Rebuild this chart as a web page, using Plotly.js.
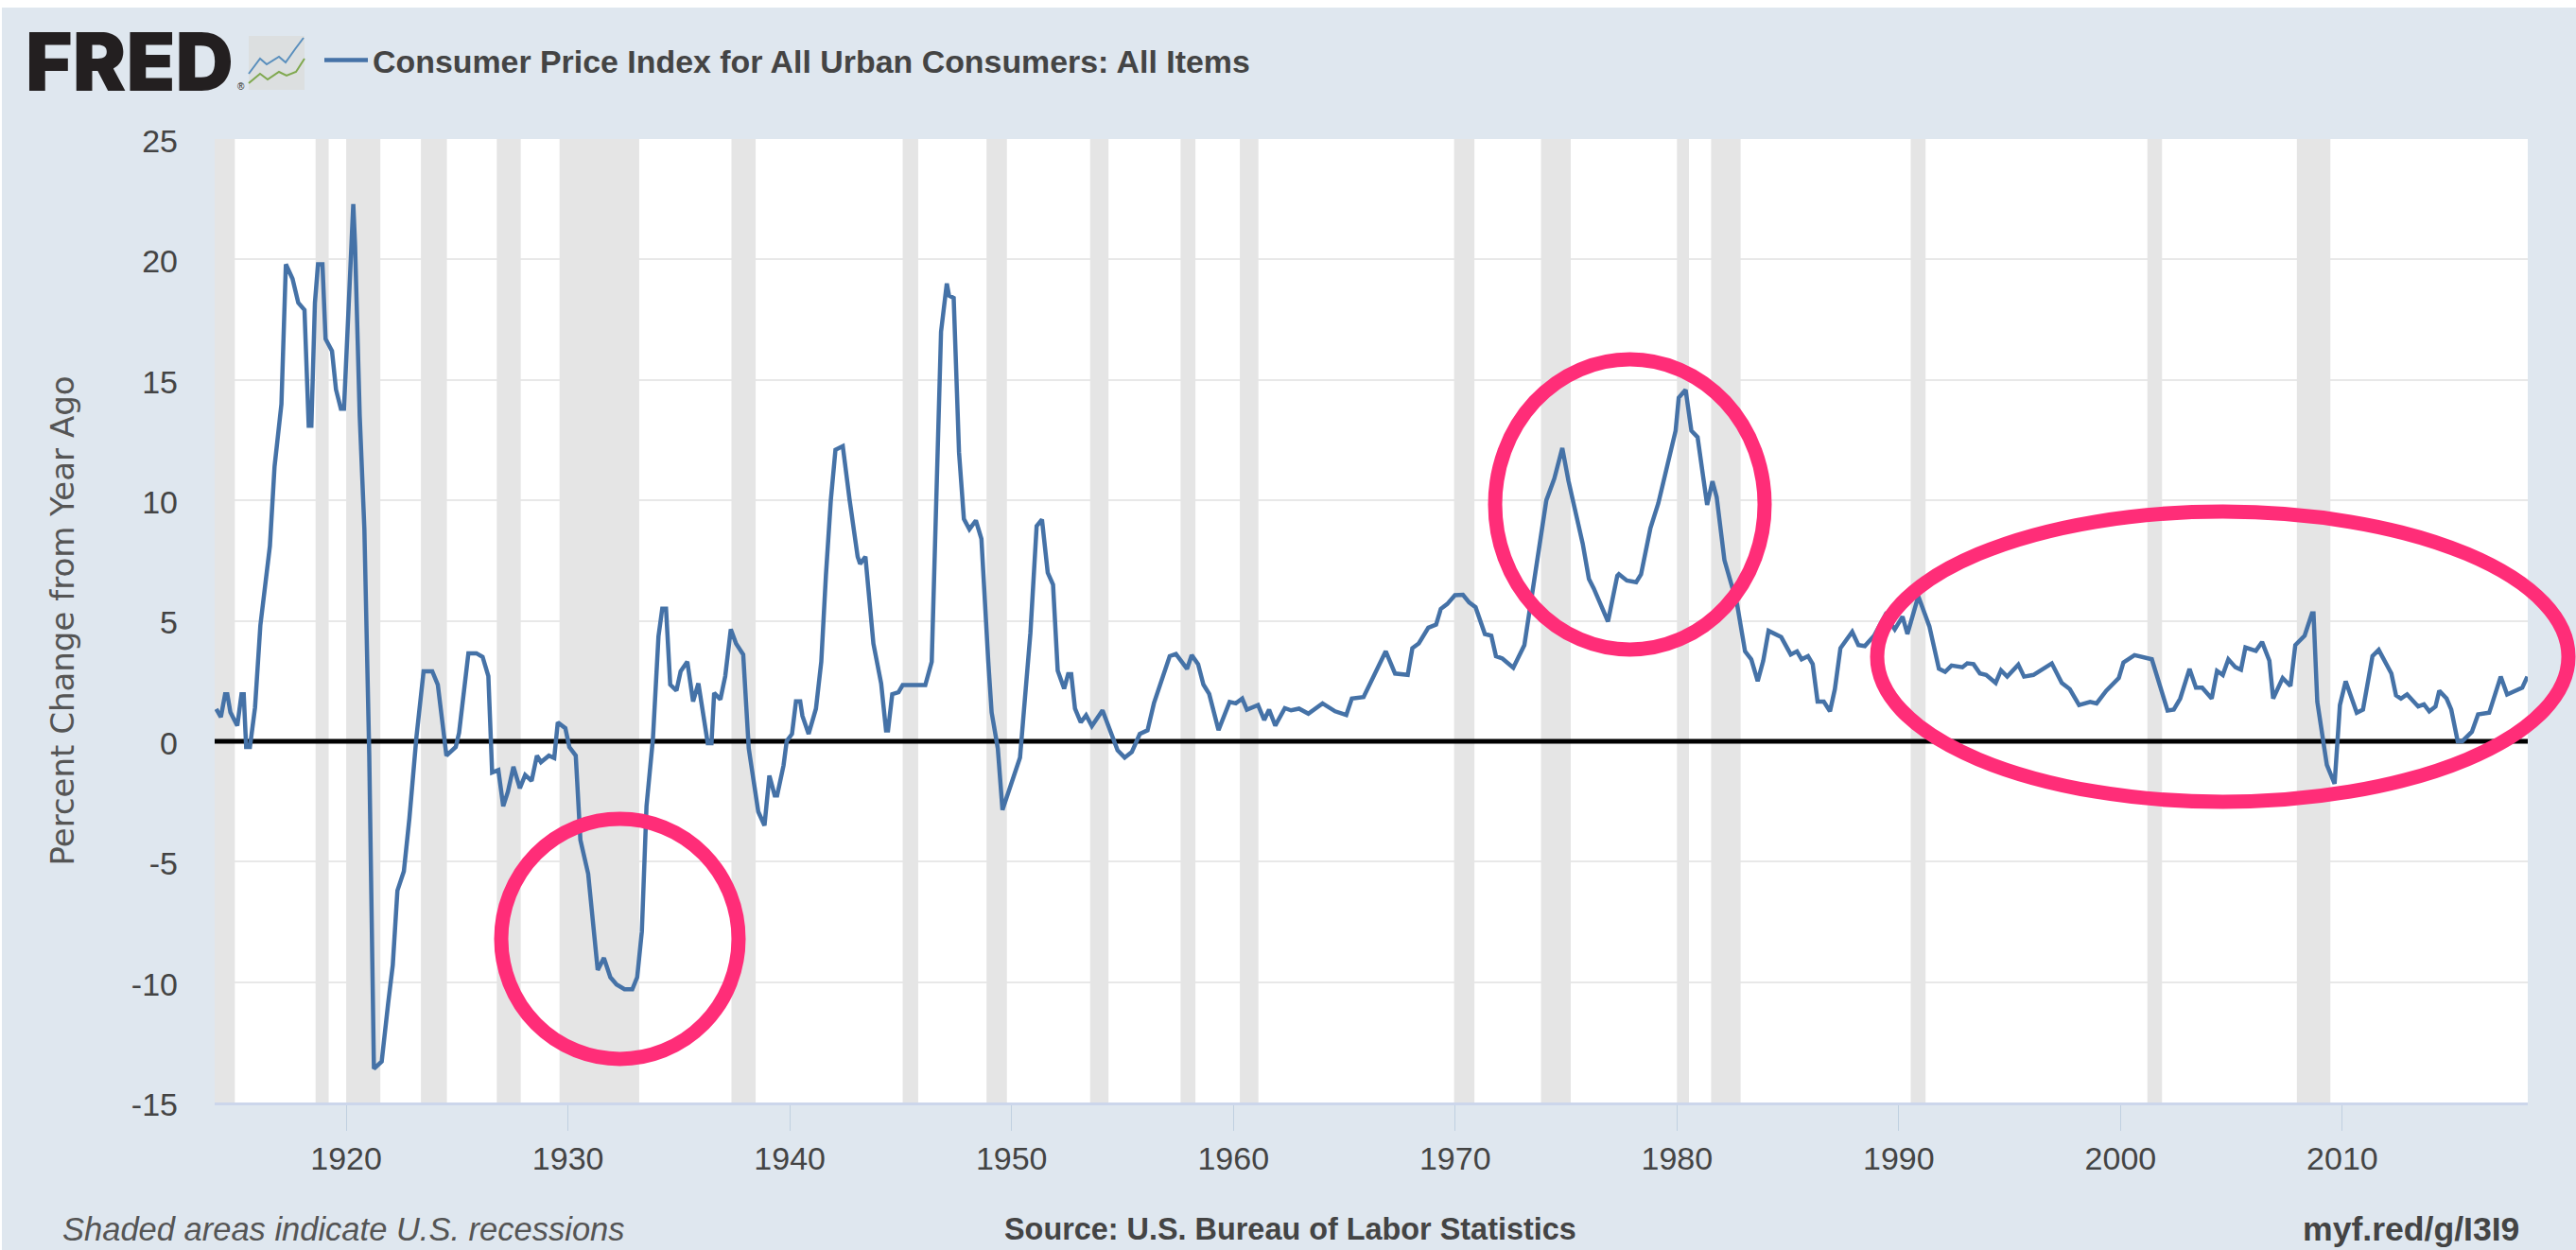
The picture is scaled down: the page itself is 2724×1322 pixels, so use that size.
<!DOCTYPE html>
<html><head><meta charset="utf-8">
<script src="https://cdn.plot.ly/plotly-3.0.1.min.js"></script>
<style>html,body{margin:0;padding:0;background:#fff;overflow:hidden}#c{position:absolute;left:2px;top:8px;width:2722px;height:1314px}</style>
</head><body><div id="c"></div>
<script>
// Percent change from year ago
const yearsA=[1914.14,1914.35,1914.54,1914.64,1914.78,1915.09,1915.28,1915.38,1915.49,1915.66,1915.89,1916.13,1916.56,1916.77,1917.08,1917.28,1917.58,1917.84,1918.12,1918.31,1918.43,1918.59,1918.73,1918.93,1919.07,1919.36,1919.54,1919.76,1919.90,1920.11,1920.32,1920.40,1920.61,1920.82,1921.04,1921.25,1921.60,1921.89,1922.10,1922.31,1922.60,1922.85,1923.17,1923.49,1923.88,1924.13,1924.52,1924.94,1925.09,1925.51,1925.87,1926.15,1926.41,1926.58,1926.86,1927.08,1927.29,1927.54,1927.83,1928.07,1928.36,1928.60,1928.78,1929.14,1929.38,1929.54,1929.88,1930.06,1930.35,1930.56,1930.91,1931.34,1931.62,1931.91,1932.19,1932.55,1932.90,1933.12,1933.33,1933.54,1933.83,1934.08,1934.25,1934.42,1934.61,1934.89,1935.08];
const valuesA=[1.34,1.0,1.95,1.95,1.2,0.64,1.95,1.95,-0.24,-0.24,1.4,4.8,8.1,11.4,14,19.8,19.2,18.2,17.9,13.1,13.1,18.2,19.8,19.8,16.7,16.2,14.6,13.8,13.8,18.2,22.3,20.6,13.5,8.8,-0.6,-13.6,-13.3,-10.9,-9.3,-6.2,-5.4,-3.2,0.2,2.9,2.9,2.35,-0.6,-0.24,0.35,3.65,3.65,3.5,2.7,-1.3,-1.2,-2.7,-2.1,-1.06,-1.95,-1.4,-1.65,-0.6,-0.87,-0.6,-0.7,0.78,0.54,-0.24,-0.6,-4.1,-5.5,-9.5,-9,-9.8,-10.1,-10.3,-10.3,-9.8,-7.9,-2.7,0.1,4.35,5.5,5.5,2.35,2.1,2.9];
const yearsB=[1935.38,1935.64,1935.88,1936.30,1936.47,1936.59,1936.87,1937.09,1937.34,1937.58,1937.90,1938.15,1938.58,1938.86,1939.08,1939.32,1939.43,1939.72,1939.86,1940.10,1940.28,1940.47,1940.57,1940.85,1941.18,1941.42,1941.63,1941.85,1942.06,1942.39,1942.70,1943.06,1943.17,1943.41,1943.77,1944.12,1944.34,1944.43,1944.62,1944.90,1945.09,1946.11,1946.40,1946.61,1946.82,1947.08,1947.18,1947.39,1947.63,1947.85,1948.10,1948.39,1948.64,1948.95,1949.10,1949.38,1949.59,1950.38,1950.85,1951.13,1951.37,1951.63,1951.87,1952.08,1952.37,1952.55,1952.69,1952.86,1953.12,1953.36,1953.62,1954.10,1954.78,1955.10,1955.42,1955.78,1956.13,1956.42];
const valuesB=[3.3,1.65,2.4,-0.08,-0.08,2.0,1.73,2.7,4.65,4.05,3.6,-0.3,-2.93,-3.5,-1.43,-2.25,-2.25,-1,0,0.3,1.65,1.65,1.05,0.3,1.35,3.3,6.9,10,12.1,12.25,10,7.66,7.36,7.66,4.05,2.4,0.45,0.45,1.95,2.03,2.33,2.33,3.3,10,17,19,18.5,18.4,12,9.23,8.8,9.16,8.4,3.3,1.2,-0.3,-2.85,-0.68,4.5,8.93,9.2,7,6.5,2.93,2.18,2.78,2.78,1.35,0.78,1.08,0.63,1.28,-0.38,-0.68,-0.45,0.3,0.45,1.58];
const yearsC=[1956.63,1956.77,1957.13,1957.41,1957.91,1958.12,1958.41,1958.65,1958.91,1959.33,1959.83,1960.11,1960.40,1960.61,1961.11,1961.39,1961.61,1961.89,1962.32,1962.60,1962.96,1963.38,1964.02,1964.59,1965.09,1965.34,1965.87,1966.87,1967.29,1967.86,1968.07,1968.36,1968.79,1969.14,1969.35,1969.64,1969.99,1970.35,1970.63,1970.92,1971.34,1971.63,1971.84,1972.13,1972.62,1973.12,1973.33,1973.62,1974.11,1974.47,1974.83,1975.11,1975.40,1975.75,1976.03,1976.25,1976.89,1977.31];
const valuesC=[2.16,2.5,3.53,3.62,3.0,3.57,3.2,2.35,1.96,0.46,1.63,1.57,1.77,1.31,1.5,0.88,1.31,0.65,1.37,1.28,1.35,1.14,1.57,1.24,1.09,1.77,1.83,3.73,2.81,2.75,3.86,4.06,4.71,4.84,5.49,5.69,6.06,6.08,5.76,5.56,4.45,4.38,3.53,3.43,3.05,3.99,5.3,7,10,10.9,12.17,10.8,9.6,8.2,6.74,6.34,4.97,6.87];
const yearsD=[1977.38,1977.74,1978.16,1978.38,1978.80,1979.16,1979.94,1980.08,1980.39,1980.65,1980.93,1981.36,1981.60,1981.79,1982.14,1982.71,1983.07,1983.35,1983.64,1983.89,1984.13,1984.70,1985.13,1985.41,1985.62,1985.91,1986.12,1986.34,1986.62,1986.90,1987.12,1987.37,1987.90,1988.18,1988.47,1988.89,1989.39,1989.82,1990.17,1990.39,1990.88,1991.38,1991.81,1992.09,1992.38,1992.87,1993.09,1993.37,1993.66,1993.94,1994.37,1994.61,1994.89,1995.39,1995.65,1996.07,1996.90,1997.35,1997.71,1998.13,1998.63];
const valuesD=[6.93,6.67,6.6,6.93,8.83,9.88,12.89,14.26,14.59,12.89,12.62,9.81,10.79,10.14,7.52,5.69,3.73,3.4,2.49,3.34,4.58,4.32,3.6,3.73,3.4,3.53,3.2,1.64,1.64,1.24,2.16,3.86,4.54,3.99,3.95,4.38,5.23,4.64,5.17,4.45,6.02,4.77,3.01,2.88,3.14,3.07,3.23,3.2,2.81,2.75,2.42,2.94,2.68,3.18,2.68,2.75,3.23,2.42,2.16,1.5,1.63];
const yearsE=[1998.92,1999.35,1999.92,2000.13,2000.63,2001.41,2001.76,2002.12,2002.40,2002.69,2003.11,2003.40,2003.68,2004.11,2004.35,2004.61,2004.86,2005.18,2005.43,2005.63,2006.10,2006.38,2006.71,2006.88,2007.31,2007.66,2007.88,2008.30,2008.63,2008.70,2008.87,2009.30,2009.65,2009.89,2010.15,2010.65,2010.93,2011.36,2011.64,2012.21,2012.42,2012.64,2012.92,2013.42,2013.68,2013.92,2014.20,2014.37,2014.70,2014.91,2015.20,2015.41,2015.84,2016.12,2016.62,2017.14,2017.43,2017.83,2018.11,2018.34];
const valuesE=[1.57,2.09,2.62,3.27,3.57,3.4,2.29,1.27,1.31,1.77,3.0,2.22,2.22,1.77,2.92,2.75,3.4,3.07,2.97,3.89,3.75,4.12,3.34,1.77,2.62,2.29,3.99,4.38,5.3,5.3,1.64,-0.98,-1.77,1.5,2.49,1.18,1.31,3.53,3.79,2.81,1.9,1.77,1.94,1.44,1.53,1.24,1.44,2.09,1.77,1.31,0,0,0.39,1.11,1.18,2.68,1.94,2.09,2.22,2.68];
const recessionStart=[1913.0,1918.62,1920.0,1923.37,1926.79,1929.62,1937.37,1945.09,1948.87,1953.54,1957.62,1960.29,1969.95,1973.87,1980.0,1981.54,1990.54,2001.21,2007.95];
const recessionEnd=[1914.98,1919.21,1921.54,1924.54,1927.87,1933.21,1938.46,1945.79,1949.79,1954.37,1958.29,1961.13,1970.87,1975.21,1980.54,1982.87,1991.21,2001.87,2009.46];
const yTicks=[-15,-10,-5,0,5,10,15,20,25];
const yTickText=["-15","-10","-5","0","5","10","15","20","25"];
const xTicks=[1920,1930,1940,1950,1960,1970,1980,1990,2000,2010];
const seriesName="Consumer Price Index for All Urban Consumers: All Items";

const years=[...yearsA,...yearsB,...yearsC,...yearsD,...yearsE];
const values=[...valuesA,...valuesB,...valuesC,...valuesD,...valuesE];
const xRange=[1914.07,2018.36];

// plot box on the page, used only to place callouts and page furniture
const W=2722,H=1314,L=225,T=139,PW=2446,PH=1019;
const px=x=>(x-2-L)/PW, py=y=>1-(y-8-T)/PH;

const shapes=[];
recessionStart.forEach((s,i)=>shapes.push({type:'rect',layer:'between',xref:'x',yref:'y',x0:s,x1:recessionEnd[i],y0:-15,y1:25,fillcolor:'#e5e5e5',line:{width:0}}));
shapes.push({type:'line',layer:'between',xref:'x',yref:'y',x0:xRange[0],x1:xRange[1],y0:0,y1:0,line:{color:'#000',width:5}});
const ellipse=(a,b,c,d)=>({type:'circle',layer:'above',xref:'paper',yref:'paper',x0:px(a),x1:px(b),y0:py(d),y1:py(c),line:{color:'#ff2d78',width:15},fillcolor:'rgba(0,0,0,0)'});
shapes.push(ellipse(530,781,866,1120),ellipse(1581,1866,380,687),ellipse(1985,2716,541,848));
// logo chart icon
shapes.push({type:'rect',layer:'above',xref:'paper',yref:'paper',x0:px(263),x1:px(322),y0:py(95),y1:py(38),fillcolor:'#dcdfe0',line:{width:0}});
const pathOf=p=>'M'+p.map(q=>px(q[0])+','+py(q[1])).join('L');
shapes.push({type:'path',layer:'above',xref:'paper',yref:'paper',path:pathOf([[263,78],[275,62],[282,68],[295,60],[302,66],[312,52],[321,40]]),line:{color:'#5a8fbd',width:2}});
shapes.push({type:'path',layer:'above',xref:'paper',yref:'paper',path:pathOf([[263,88],[275,78],[283,84],[295,76],[303,80],[313,76],[322,62]]),line:{color:'#7fa84e',width:2}});

const note=(x,y,text,font,anchor)=>({xref:'paper',yref:'paper',x:px(x),y:py(y),text,showarrow:false,xanchor:anchor||'left',yanchor:'middle',font});
const annotations=[
 note(25,66,'FRED',{family:'Inter',size:85,weight:900,color:'#231f20'}),
 note(249,92,'®',{family:'Liberation Sans',size:10,color:'#231f20'}),
 note(64,1300,'<i>Shaded areas indicate U.S. recessions</i>',{family:'Liberation Sans',size:34.5,color:'#555'}),
 note(1060,1300,'<b>Source: U.S. Bureau of Labor Statistics</b>',{family:'Liberation Sans',size:32.4,color:'#444'}),
 note(2666,1300,'<b>myf.red/g/I3I9</b>',{family:'Liberation Sans',size:35.6,color:'#444'},'right')
];

Plotly.newPlot('c',[{x:years,y:values,type:'scatter',mode:'lines',name:seriesName,showlegend:true,line:{color:'#4572a7',width:4.5,shape:'linear'},hoverinfo:'x+y'}],{
 width:W,height:H,paper_bgcolor:'#dfe7ef',plot_bgcolor:'#fff',
 margin:{l:L,r:W-L-PW,t:T,b:H-T-PH,pad:0},
 font:{family:'Liberation Sans',color:'#444'},
 showlegend:true,
 legend:{orientation:'h',x:px(338),y:py(64),xanchor:'left',yanchor:'middle',bgcolor:'rgba(0,0,0,0)',itemwidth:46,font:{family:'Liberation Sans',size:33.9,color:'#444',weight:'bold'}},
 xaxis:{type:'linear',range:xRange,tickvals:xTicks,ticktext:xTicks.map(String),ticks:'outside',ticklen:27,tickwidth:1,tickcolor:'#c0d0e0',showline:true,linecolor:'#ccd6eb',linewidth:3,showgrid:false,zeroline:false,tickfont:{size:34,color:'#444'},ticklabelstandoff:0,automargin:false},
 yaxis:{range:[-15,25],tickvals:yTicks,ticktext:yTickText,ticks:'',showgrid:true,gridcolor:'#e8e8e8',gridwidth:2,zeroline:false,showline:false,tickfont:{size:34,color:'#444'},ticklabelstandoff:38,ticklabelshift:2,automargin:false,
  title:{text:'Percent Change from Year Ago',font:{family:'DejaVu Sans',size:34,color:'#555'},standoff:49}},
 shapes,annotations
},{displayModeBar:false,staticPlot:true});
</script></body></html>
